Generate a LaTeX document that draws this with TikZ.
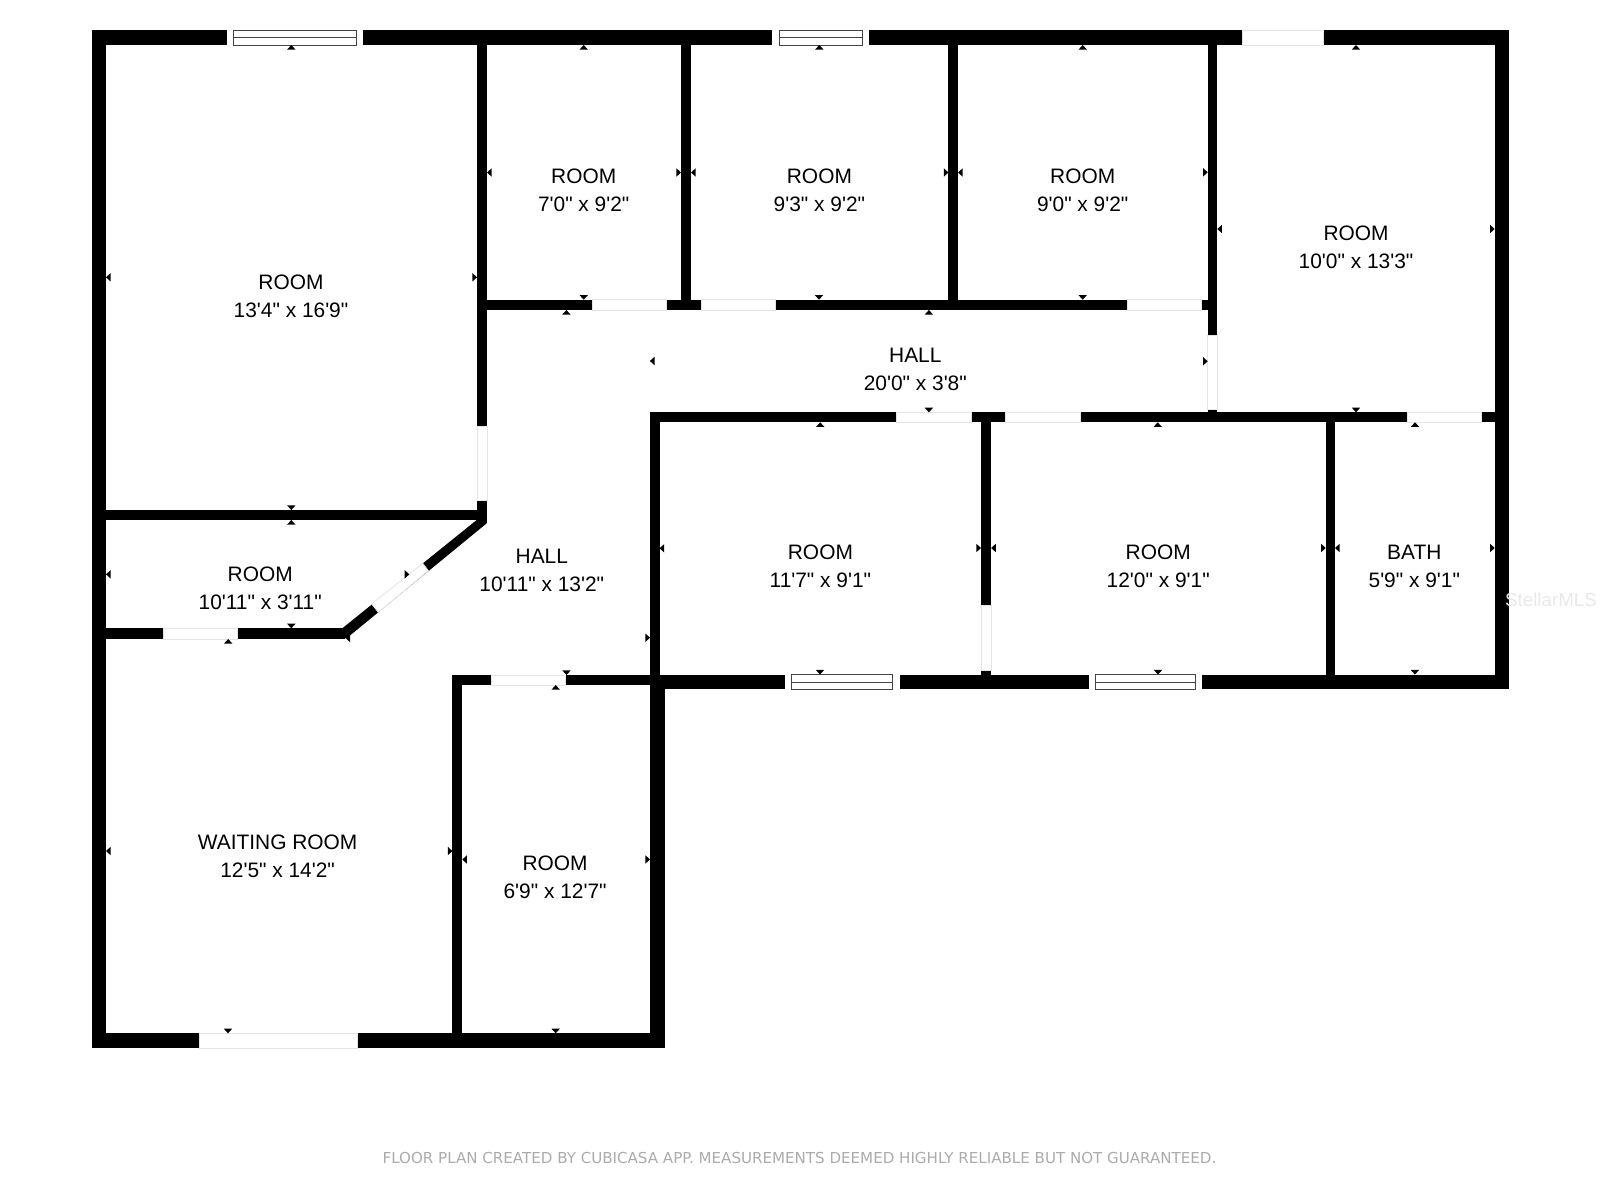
\documentclass[tikz,border=0pt]{standalone}
\usepackage{fontspec}
\newfontfamily\planfont{Liberation Sans}
\newfontfamily\footfont{DejaVu Sans}
\definecolor{doorline}{HTML}{E4E4E4}
\definecolor{paneline}{HTML}{444444}
\definecolor{footgray}{HTML}{ABABAB}
\definecolor{markgray}{HTML}{E8E8E8}
\tikzset{wall/.style={fill=black}}
\tikzset{door gap/.style={fill=white, draw=doorline, line width=0.4pt}}
\tikzset{window pane/.style={fill=white, draw=paneline, line width=0.35pt}}
\tikzset{tick mark/.style={fill=black}}
\tikzset{room label/.style={font=\planfont\fontsize{10.45}{14}\selectfont, align=center, inner sep=0pt}}

\begin{document}
\begin{tikzpicture}
  [x=0.5pt, y=-0.5pt]
  \useasboundingbox (0,0) rectangle (1600,1200);

  \fill [wall] (91.5,30.3)   rectangle (1509.3,45);
  \fill [wall] (91.5,30.3)   rectangle (106,1048.3);
  \fill [wall] (91.5,1033.3) rectangle (664.8,1048.3);
  \fill [wall] (1494.7,30.3) rectangle (1509.3,689);
  \fill [wall] (650,674.5)   rectangle (1509.3,689);
  \fill [wall] (650,685)     rectangle (664.8,1048.3);
  \fill [wall] (649.6,412.3) rectangle (659.6,685);
  \fill [wall] (649.6,412.3) rectangle (1509.3,422.3);
  \fill [wall] (477,299.7)   rectangle (1217.3,310);
  \fill [wall] (452.4,675)   rectangle (650,685);
  \fill [wall] (452.4,675)   rectangle (462.3,1048.3);
  \fill [wall] (477,30.3)    rectangle (487,523.3);
  \fill [wall] (106,510)     rectangle (487,520);
  \fill [wall] (106,628.3)   rectangle (345,639);
  \fill [wall] (681,30.3)    rectangle (691,305);
  \fill [wall] (948.4,30.3)  rectangle (958,305);
  \fill [wall] (1207.7,30.3) rectangle (1217.3,417);
  \fill [wall] (981,417)     rectangle (991.2,680);
  \fill [wall] (1325.7,417)  rectangle (1335,680);
  \fill [wall] (476.7,520) -- (486.7,520) -- (486.7,523.3) -- (347.3,637.7) -- (342.3,639) -- (340,628.3) -- (342.3,628.3) -- cycle;

  \draw [door gap] (1242.3,30.3) rectangle (1323,45);
  \draw [door gap] (592.5,299.7) rectangle (666.7,310);
  \draw [door gap] (701.5,299.7) rectangle (775.8,310);
  \draw [door gap] (1127.3,299.7) rectangle (1201.7,310);
  \draw [door gap] (896.7,412.3) rectangle (971,422.3);
  \draw [door gap] (1005.8,412.3) rectangle (1080,422.3);
  \draw [door gap] (1407.3,412.3) rectangle (1481.7,422.3);
  \draw [door gap] (1207.7,335) rectangle (1217.3,409.3);
  \draw [door gap] (981,605) rectangle (991.2,670);
  \draw [door gap] (477,426.7) rectangle (487,500.7);
  \draw [door gap] (163,628.3) rectangle (237.3,639);
  \draw [door gap] (491,675) rectangle (565.3,685);
  \draw [door gap] (199,1033.3) rectangle (357.5,1048.3);
  \draw [door gap] (422.7,563.3) -- (428.3,570.7) -- (378.3,612.3) -- (371.7,604) -- cycle;

  \fill [white] (226.7,30.3) rectangle (362.7,45);
  \draw [window pane] (233,30.3) rectangle (356.7,45) (233,37.5) -- (356.7,37.5);
  \fill [white] (772.3,30.3) rectangle (869,45);
  \draw [window pane] (779.3,30.3) rectangle (862.3,45) (779.3,37.7) -- (862.3,37.7);
  \fill [white] (785.2,674.5) rectangle (899.6,689);
  \draw [window pane] (791.5,674.5) rectangle (892.8,689) (791.5,682) -- (892.8,682);
  \fill [white] (1088.6,674.5) rectangle (1202,689);
  \draw [window pane] (1095,674.5) rectangle (1195.8,689) (1095,682) -- (1195.8,682);

  \foreach \x/\y in {291.3/45, 583.7/45, 819.3/45, 1082.7/45, 1356/45, 291.3/520, 228.2/639, 555.7/685,
                     566.4/310, 928.9/310, 820.2/422.3, 1157.7/422.3, 1415/422.3}
    \fill [tick mark] (\x,\y) -- ++(-4.2,4.6) -- ++(8.4,0) -- cycle;
  \foreach \x/\y in {291.3/510, 291.3/628.3, 583.7/299.7, 819/299.7, 1082.7/299.7, 928.9/412.3, 1356/412.3, 566.5/675,
                     820/674.5, 1158/674.5, 1414.9/674.5, 228/1033.3, 555.7/1033.3}
    \fill [tick mark] (\x,\y) -- ++(-4.2,-4.6) -- ++(8.4,0) -- cycle;
  \foreach \x/\y in {106/277.3, 487/172.5, 691/172.5, 958/172.5, 1217.3/229, 106/574.3, 659.6/548.3, 649.9/361,
                     991.2/548, 1335/548, 106/851, 462.3/859.5, 345.5/638}
    \fill [tick mark] (\x,\y) -- ++(4.6,-4.2) -- ++(0,8.4) -- cycle;
  \foreach \x/\y in {477/277.3, 681/172.5, 948.4/172.5, 1207.7/172.3, 1494.7/229, 1207.7/361.3, 981/548, 1325.7/548,
                     1494.7/548, 650/637.7, 409.3/574.3, 452.4/851, 650/859.5}
    \fill [tick mark] (\x,\y) -- ++(-4.6,-4.2) -- ++(0,8.4) -- cycle;

  \node [room label] (office)   at (291,295.8)    {ROOM\\13'4" x 16'9"};
  \node [room label] (roomA)    at (583.7,190.4)  {ROOM\\7'0" x 9'2"};
  \node [room label] (roomB)    at (819.4,190.4)  {ROOM\\9'3" x 9'2"};
  \node [room label] (roomC)    at (1082.7,190.4) {ROOM\\9'0" x 9'2"};
  \node [room label] (roomD)    at (1356,246.8)   {ROOM\\10'0" x 13'3"};
  \node [room label] (hallE)    at (915.3,369.3)  {HALL\\20'0" x 3'8"};
  \node [room label] (closet)   at (260.2,588.7)  {ROOM\\10'11" x 3'11"};
  \node [room label] (hallW)    at (541.8,570.4)  {HALL\\10'11" x 13'2"};
  \node [room label] (roomF)    at (820.4,566.4)  {ROOM\\11'7" x 9'1"};
  \node [room label] (roomG)    at (1158.2,566.4) {ROOM\\12'0" x 9'1"};
  \node [room label] (bath)     at (1414.3,566.4) {BATH\\5'9" x 9'1"};
  \node [room label] (waiting)  at (277.6,856.6)  {WAITING ROOM\\12'5" x 14'2"};
  \node [room label] (roomH)    at (555.1,877.4)  {ROOM\\6'9" x 12'7"};

  \node [font=\footfont\fontsize{7.54}{9}\selectfont, text=footgray, inner sep=0pt] (credit) at (799.5,1158)
    {FLOOR PLAN CREATED BY CUBICASA APP. MEASUREMENTS DEEMED HIGHLY RELIABLE BUT NOT GUARANTEED.};
  \node [font=\planfont\fontsize{9.4}{11}\selectfont, text=markgray, inner sep=0pt] (stamp) at (1551,600) {StellarMLS};
\end{tikzpicture}
\end{document}
